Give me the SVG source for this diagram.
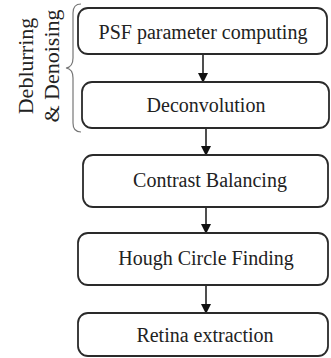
<svg xmlns="http://www.w3.org/2000/svg" width="331" height="358" viewBox="0 0 331 358">
<style>
.box{fill:#fff;stroke:#2a2a2a;stroke-width:1.8}
.t{font-family:"Liberation Serif","Times New Roman",serif;font-size:20px;fill:#222;text-anchor:middle}
.s{font-family:"Liberation Serif","Times New Roman",serif;font-size:22px;fill:#222;text-anchor:middle}
.c{stroke:#222;stroke-width:1.6;fill:none}
</style>
<defs>
<marker id="ah" markerWidth="10" markerHeight="12" refX="8" refY="5" orient="auto" markerUnits="userSpaceOnUse">
<path d="M0,0 L10,5 L0,10 Z" fill="#111"/>
</marker>
</defs>
<rect width="331" height="358" fill="#fff"/>
<g id="connectors">
<line class="c" x1="203" y1="54" x2="203" y2="81" marker-end="url(#ah)"/>
<line class="c" x1="206" y1="128" x2="206" y2="154" marker-end="url(#ah)"/>
<line class="c" x1="206" y1="207" x2="206" y2="232" marker-end="url(#ah)"/>
<line class="c" x1="206" y1="285" x2="206" y2="312" marker-end="url(#ah)"/>
</g>
<g id="brace">
<path d="M81,4 Q73,4 73,13 L73,58 Q73,67 66,68 Q73,69 73,78 L73,123 Q73,132 81,132" fill="none" stroke="#777" stroke-width="1.2"/>
<text class="s" transform="translate(33,66) rotate(-90)">Deblurring</text>
<text class="s" transform="translate(59,66) rotate(-90)">&amp; Denoising</text>
</g>
<g id="n1"><rect class="box" x="78" y="8" width="249" height="46" rx="10"/><text class="t" x="203" y="39">PSF parameter computing</text></g>
<g id="n2"><rect class="box" x="82" y="82" width="247" height="46" rx="10"/><text class="t" x="206" y="112">Deconvolution</text></g>
<g id="n3"><rect class="box" x="83" y="155" width="245" height="52" rx="10"/><text class="t" x="210" y="187">Contrast Balancing</text></g>
<g id="n4"><rect class="box" x="78" y="233" width="250" height="52" rx="10"/><text class="t" x="206" y="265">Hough Circle Finding</text></g>
<g id="n5"><rect class="box" x="78" y="313" width="250" height="43" rx="10"/><text class="t" x="205" y="342">Retina extraction</text></g>
</svg>
